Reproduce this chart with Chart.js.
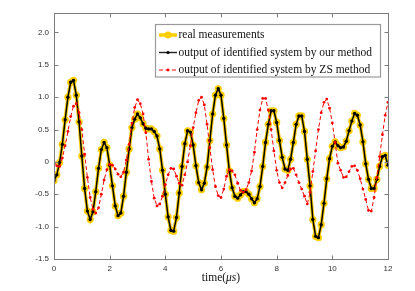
<!DOCTYPE html>
<html>
<head>
<meta charset="utf-8">
<script src="https://cdn.jsdelivr.net/npm/chart.js@4.4.0/dist/chart.umd.min.js"></script>
<style>
  html, body { margin: 0; padding: 0; background: #fff; }
  #wrap { width: 415px; height: 291px; }
</style>
</head>
<body>
<div id="wrap"><canvas id="respChart" width="415" height="291"></canvas></div>
<script>
// samples every 0.1 us, from 0 to 12 us
const timeStep = 0.1;

// yellow curve (measured), one row per microsecond
const realMeasurements = [
  -0.29, -0.20, -0.01, 0.27, 0.65, 1.00, 1.23, 1.26, 1.03, 0.62,
  0.09, -0.41, -0.76, -0.89, -0.77, -0.46, -0.10, 0.19, 0.30, 0.22,
  -0.05, -0.37, -0.68, -0.83, -0.79, -0.53, -0.16, 0.20, 0.53, 0.66,
  0.74, 0.68, 0.59, 0.52, 0.51, 0.51, 0.47, 0.40, 0.20, -0.13,
  -0.50, -0.85, -1.06, -1.07, -0.86, -0.48, -0.07, 0.28, 0.48, 0.46,
  0.26, -0.06, -0.32, -0.43, -0.33, -0.08, 0.33, 0.74, 1.03, 1.13,
  1.03, 0.67, 0.26, -0.14, -0.40, -0.53, -0.56, -0.51, -0.46, -0.46,
  -0.50, -0.57, -0.63, -0.57, -0.38, -0.07, 0.30, 0.58, 0.79, 0.79,
  0.61, 0.33, 0.07, -0.11, -0.13, 0.04, 0.30, 0.58, 0.71, 0.71,
  0.47, 0.04, -0.37, -0.89, -1.15, -1.17, -0.97, -0.64, -0.26, 0.05,
  0.24, 0.31, 0.25, 0.22, 0.23, 0.32, 0.48, 0.63, 0.75, 0.72,
  0.57, 0.31, -0.03, -0.27, -0.41, -0.41, -0.27, -0.07, 0.08, 0.10,
  -0.05
];

// black curve sits right on top of the yellow one
const ourMethodOutput = [
  -0.29, -0.20, -0.01, 0.27, 0.65, 1.00, 1.23, 1.26, 1.03, 0.62,
  0.09, -0.41, -0.76, -0.89, -0.77, -0.46, -0.10, 0.19, 0.30, 0.22,
  -0.05, -0.37, -0.68, -0.83, -0.79, -0.53, -0.16, 0.20, 0.53, 0.66,
  0.74, 0.68, 0.59, 0.52, 0.51, 0.51, 0.47, 0.40, 0.20, -0.13,
  -0.50, -0.85, -1.06, -1.07, -0.86, -0.48, -0.07, 0.28, 0.48, 0.46,
  0.26, -0.06, -0.32, -0.43, -0.33, -0.08, 0.33, 0.74, 1.03, 1.13,
  1.03, 0.67, 0.26, -0.14, -0.40, -0.53, -0.56, -0.51, -0.46, -0.46,
  -0.50, -0.57, -0.63, -0.57, -0.38, -0.07, 0.30, 0.58, 0.79, 0.79,
  0.61, 0.33, 0.07, -0.11, -0.13, 0.04, 0.30, 0.58, 0.71, 0.71,
  0.47, 0.04, -0.37, -0.89, -1.15, -1.17, -0.97, -0.64, -0.26, 0.05,
  0.24, 0.31, 0.25, 0.22, 0.23, 0.32, 0.48, 0.63, 0.75, 0.72,
  0.57, 0.31, -0.03, -0.27, -0.41, -0.41, -0.27, -0.07, 0.08, 0.10,
  -0.05
];

// red dashed curve
const zsMethodOutput = [
  0.00, -0.06, -0.07, 0.06, 0.25, 0.47, 0.70, 0.86, 0.90, 0.76,
  0.50, 0.12, -0.24, -0.55, -0.73, -0.79, -0.71, -0.50, -0.28, -0.12,
  -0.04, -0.05, -0.11, -0.19, -0.23, -0.16, 0.03, 0.27, 0.60, 0.84,
  0.96, 0.90, 0.74, 0.45, 0.04, -0.30, -0.56, -0.68, -0.65, -0.53,
  -0.35, -0.20, -0.10, -0.11, -0.22, -0.33, -0.36, -0.20, 0.00, 0.25,
  0.53, 0.76, 0.95, 1.00, 0.88, 0.58, 0.22, -0.12, -0.38, -0.52,
  -0.55, -0.42, -0.22, -0.12, -0.14, -0.20, -0.33, -0.44, -0.47, -0.43,
  -0.32, -0.14, 0.15, 0.50, 0.80, 0.98, 0.98, 0.80, 0.50, 0.17,
  -0.13, -0.32, -0.40, -0.32, -0.21, -0.11, -0.10, -0.20, -0.32, -0.42,
  -0.53, -0.65, -0.47, -0.15, 0.17, 0.50, 0.76, 0.92, 0.97, 0.83,
  0.60, 0.30, -0.02, -0.13, -0.24, -0.23, -0.15, -0.07, -0.06, -0.13,
  -0.26, -0.42, -0.58, -0.75, -0.76, -0.55, -0.24, 0.08, 0.42, 0.72,
  0.92
];

const xTicks = [0, 2, 4, 6, 8, 10, 12];
const yTicks = [-1.5, -1, -0.5, 0, 0.5, 1, 1.5, 2];
const seriesNames = [
  "real measurements",
  "output of identified system by our method",
  "output of identified system by ZS method"
];

const YELLOW = "rgb(250, 206, 0)";
const RED = "#ff0000";
const FRAME = "#7d7d7d";
const SERIF = "'Liberation Serif', serif";

function toPoints(values) {
  return values.map((v, i) => ({ x: Math.round(i * timeStep * 10) / 10, y: v }));
}

// box, inward ticks, legend and x title (MATLAB style)
const matlabFrame = {
  id: "matlabFrame",
  afterDraw(chart) {
    const ctx = chart.ctx;
    const a = chart.chartArea;
    const xs = chart.scales.x;
    const ys = chart.scales.y;
    const L = Math.round(a.left) + 0.5, R = Math.round(a.right) + 0.5;
    const T = Math.round(a.top) + 0.5, B = Math.round(a.bottom) + 0.5;

    ctx.save();
    ctx.strokeStyle = FRAME;
    ctx.lineWidth = 1;
    ctx.strokeRect(L, T, R - L, B - T);

    ctx.beginPath();
    xTicks.forEach(v => {
      const px = Math.round(xs.getPixelForValue(v)) + 0.5;
      ctx.moveTo(px, B); ctx.lineTo(px, B - 4);
      ctx.moveTo(px, T); ctx.lineTo(px, T + 4);
    });
    yTicks.forEach(v => {
      const py = Math.round(ys.getPixelForValue(v)) + 0.5;
      ctx.moveTo(L, py); ctx.lineTo(L + 4, py);
      ctx.moveTo(R, py); ctx.lineTo(R - 4, py);
    });
    ctx.stroke();

    // legend box
    const bx = 155.5, by = 24.5, bw = 225, bh = 52.5;
    ctx.fillStyle = "#fff";
    ctx.fillRect(bx, by, bw, bh);
    ctx.strokeStyle = "#9a9a9a";
    ctx.lineWidth = 1.2;
    ctx.strokeRect(bx, by, bw, bh);

    const rows = [35, 52.5, 70];
    const x0 = 159, x1 = 177, xm = 168;

    // real measurements: thick yellow + circle
    ctx.strokeStyle = YELLOW;
    ctx.lineWidth = 3.5;
    ctx.beginPath(); ctx.moveTo(x0, rows[0]); ctx.lineTo(x1, rows[0]); ctx.stroke();
    ctx.fillStyle = YELLOW;
    ctx.beginPath(); ctx.arc(xm, rows[0], 3.6, 0, Math.PI * 2); ctx.fill();

    // our method: black + dot
    ctx.strokeStyle = "#222";
    ctx.lineWidth = 1.4;
    ctx.beginPath(); ctx.moveTo(x0, rows[1]); ctx.lineTo(x1, rows[1]); ctx.stroke();
    ctx.fillStyle = "#000";
    ctx.beginPath(); ctx.arc(xm, rows[1], 1.6, 0, Math.PI * 2); ctx.fill();

    // ZS method: red dashed + dot
    ctx.strokeStyle = RED;
    ctx.lineWidth = 1;
    ctx.setLineDash([4, 2.5]);
    ctx.beginPath(); ctx.moveTo(x0, rows[2]); ctx.lineTo(x1, rows[2]); ctx.stroke();
    ctx.setLineDash([]);
    ctx.fillStyle = RED;
    ctx.beginPath(); ctx.arc(xm, rows[2], 1.4, 0, Math.PI * 2); ctx.fill();

    ctx.fillStyle = "#111";
    ctx.font = "11.5px " + SERIF;
    ctx.textBaseline = "middle";
    ctx.textAlign = "left";
    seriesNames.forEach((name, i) => ctx.fillText(name, 178.5, rows[i]));

    // x title: time(μs) with italic μs
    const parts = [
      { t: "time(", f: "11.5px " + SERIF },
      { t: "\u03bcs", f: "italic 11.5px " + SERIF },
      { t: ")", f: "11.5px " + SERIF }
    ];
    let total = 0;
    parts.forEach(p => { ctx.font = p.f; p.w = ctx.measureText(p.t).width; total += p.w; });
    let tx = xs.getPixelForValue(6) - total / 2;
    ctx.textBaseline = "alphabetic";
    parts.forEach(p => { ctx.font = p.f; ctx.fillText(p.t, tx, 281); tx += p.w; });

    ctx.restore();
  }
};

const tickFont = { family: "'Liberation Sans', Arial, sans-serif", size: 8 };

new Chart(document.getElementById("respChart"), {
  type: "line",
  data: {
    datasets: [
      {
        label: seriesNames[0],
        data: toPoints(realMeasurements),
        borderColor: YELLOW,
        borderWidth: 3.5,
        pointRadius: 3.6,
        pointBackgroundColor: YELLOW,
        pointBorderWidth: 0,
        tension: 0,
        order: 3
      },
      {
        label: seriesNames[1],
        data: toPoints(ourMethodOutput),
        borderColor: "#000",
        borderWidth: 1.5,
        pointRadius: 1.7,
        pointBackgroundColor: "#000",
        pointBorderWidth: 0,
        tension: 0,
        order: 2
      },
      {
        label: seriesNames[2],
        data: toPoints(zsMethodOutput),
        borderColor: RED,
        borderWidth: 1,
        borderDash: [4, 2.5],
        pointRadius: 1.4,
        pointBackgroundColor: RED,
        pointBorderWidth: 0,
        tension: 0,
        order: 1
      }
    ]
  },
  options: {
    responsive: false,
    animation: false,
    layout: { padding: { top: 13, right: 27, left: 0, bottom: 0 } },
    plugins: {
      legend: { display: false },
      tooltip: { enabled: false }
    },
    scales: {
      x: {
        type: "linear",
        min: 0,
        max: 12,
        grid: { display: false, drawTicks: false },
        border: { display: false },
        ticks: { stepSize: 2, font: tickFont, color: "#333", padding: 5, maxRotation: 0 },
        afterFit: s => { s.height = 32; }
      },
      y: {
        min: -1.5,
        max: 2.3,
        grid: { display: false, drawTicks: false },
        border: { display: false },
        ticks: { stepSize: 0.5, includeBounds: false, font: tickFont, color: "#333", padding: 5 },
        afterFit: s => { s.width = 54; }
      }
    }
  },
  plugins: [matlabFrame]
});
</script>
</body>
</html>
